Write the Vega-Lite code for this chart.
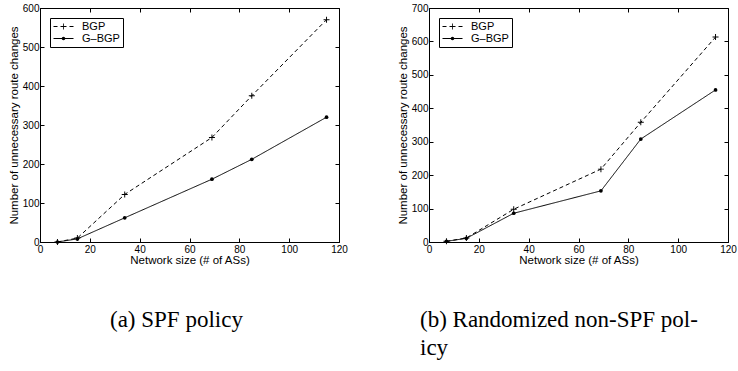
{
  "$schema": "https://vega.github.io/schema/vega-lite/v6.json",
  "padding": {"left": 7, "top": 2, "right": 0, "bottom": 0},
  "background": "white",
  "config": {
    "view": {"stroke": "black", "strokeWidth": 1},
    "axis": {
      "grid": false, "labelFlush": false, "labelOverlap": false,
      "labelFont": "Liberation Sans", "labelFontSize": 10, "labelColor": "black",
      "titleFont": "Liberation Sans", "titleFontSize": 11.5, "titleFontWeight": "normal", "titleColor": "black",
      "domainColor": "black", "tickColor": "black", "tickSize": -4
    },
    "axisX": {"labelPadding": 6, "titlePadding": 0},
    "axisY": {"labelPadding": 5, "titlePadding": 3},
    "legend": {
      "labelFont": "Liberation Sans", "labelFontSize": 11, "labelColor": "black",
      "title": null, "orient": "top-left", "offset": 10,
      "strokeColor": "black", "fillColor": "white", "padding": 3,
      "rowPadding": 0, "symbolSize": 100, "symbolStrokeColor": "black", "symbolStrokeWidth": 1,
      "labelOffset": 18
    },
    "title": {"font": "Liberation Serif", "fontSize": 23, "fontWeight": "normal", "color": "black"}
  },
  "resolve": {"scale": {"strokeDash": "independent"}, "legend": {"strokeDash": "independent"}},
  "hconcat": [
    {
      "width": 299, "height": 234,
      "title": {"text": "(a) SPF policy", "orient": "bottom", "anchor": "start", "frame": "group", "dx": 70, "offset": 43},
      "data": {"values": [
        {"size": 7, "value": 0, "series": "BGP"},
        {"size": 15, "value": 10, "series": "BGP"},
        {"size": 34, "value": 122, "series": "BGP"},
        {"size": 69, "value": 268, "series": "BGP"},
        {"size": 85, "value": 375, "series": "BGP"},
        {"size": 115, "value": 570, "series": "BGP"},
        {"size": 7, "value": 0, "series": "G-BGP"},
        {"size": 15, "value": 8, "series": "G-BGP"},
        {"size": 34, "value": 62, "series": "G-BGP"},
        {"size": 69, "value": 161, "series": "G-BGP"},
        {"size": 85, "value": 212, "series": "G-BGP"},
        {"size": 115, "value": 320, "series": "G-BGP"}
      ]},
      "layer": [
        {
          "mark": {"type": "line", "color": "black", "strokeWidth": 1},
          "encoding": {
            "x": {"field": "size", "type": "quantitative", "scale": {"domain": [0, 120], "nice": false},
                  "axis": {"title": "Network size (# of ASs)", "values": [0, 20, 40, 60, 80, 100, 120]}},
            "y": {"field": "value", "type": "quantitative", "scale": {"domain": [0, 600], "nice": false},
                  "axis": {"title": "Number of unnecessary route changes", "values": [0, 100, 200, 300, 400, 500, 600]}},
            "strokeDash": {"field": "series", "type": "nominal",
              "scale": {"domain": ["BGP", "G-BGP"], "range": [[4, 3], [1, 0]]},
              "legend": {
                "labelExpr": "replace(datum.label, '-', '–')",
                "encode": {"symbols": {"update": {
                  "shape": {"signal": "datum.value === 'BGP' ? 'M-1,-0.08L-0.2,-0.08L-0.2,0.08L-1,0.08Z M0.4,-0.08L1.6,-0.08L1.6,0.08L0.4,0.08Z M0.92,-0.6L1.08,-0.6L1.08,0.6L0.92,0.6Z M2.2,-0.08L3,-0.08L3,0.08L2.2,0.08Z' : 'M-1,-0.08L3,-0.08L3,0.08L-1,0.08Z M1.35,0A0.35,0.35 0 1,1 0.65,0A0.35,0.35 0 1,1 1.35,0Z'"},
                  "size": {"value": 100},
                  "fill": {"value": "black"},
                  "stroke": {"value": "transparent"},
                  "opacity": {"value": 1}
                }}}
              }}
          }
        },
        {
          "transform": [{"filter": "datum.series === 'BGP'"}],
          "mark": {"type": "point", "shape": "M-1,-0.16L1,-0.16L1,0.16L-1,0.16Z M-0.16,-1L0.16,-1L0.16,1L-0.16,1Z", "size": 36, "fill": "black", "strokeWidth": 0, "opacity": 1, "filled": true},
          "encoding": {
            "x": {"field": "size", "type": "quantitative", "axis": null},
            "y": {"field": "value", "type": "quantitative", "axis": null}
          }
        },
        {
          "transform": [{"filter": "datum.series === 'G-BGP'"}],
          "mark": {"type": "point", "shape": "circle", "size": 14, "fill": "black", "strokeWidth": 0, "opacity": 1, "filled": true},
          "encoding": {
            "x": {"field": "size", "type": "quantitative", "axis": null},
            "y": {"field": "value", "type": "quantitative", "axis": null}
          }
        },
        {
          "mark": {"type": "point", "opacity": 0},
          "encoding": {
            "x": {"field": "size", "type": "quantitative", "axis": {"orient": "top", "labels": false, "title": null, "domain": false, "values": [0, 20, 40, 60, 80, 100, 120]}},
            "y": {"field": "value", "type": "quantitative", "axis": {"orient": "right", "labels": false, "title": null, "domain": false, "values": [0, 100, 200, 300, 400, 500, 600]}}
          }
        }
      ],
      "resolve": {"axis": {"x": "independent", "y": "independent"}}
    },
    {
      "width": 299, "height": 234,
      "title": {"text": ["(b) Randomized non-SPF pol-", "icy"], "orient": "bottom", "anchor": "start", "frame": "group", "dx": -9, "offset": 43, "lineHeight": 28},
      "data": {"values": [
        {"size": 7, "value": 2, "series": "BGP"},
        {"size": 15, "value": 12, "series": "BGP"},
        {"size": 34, "value": 98, "series": "BGP"},
        {"size": 69, "value": 218, "series": "BGP"},
        {"size": 85, "value": 358, "series": "BGP"},
        {"size": 115, "value": 613, "series": "BGP"},
        {"size": 7, "value": 2, "series": "G-BGP"},
        {"size": 15, "value": 11, "series": "G-BGP"},
        {"size": 34, "value": 86, "series": "G-BGP"},
        {"size": 69, "value": 153, "series": "G-BGP"},
        {"size": 85, "value": 308, "series": "G-BGP"},
        {"size": 115, "value": 455, "series": "G-BGP"}
      ]},
      "layer": [
        {
          "mark": {"type": "line", "color": "black", "strokeWidth": 1},
          "encoding": {
            "x": {"field": "size", "type": "quantitative", "scale": {"domain": [0, 120], "nice": false},
                  "axis": {"title": "Network size (# of ASs)", "values": [0, 20, 40, 60, 80, 100, 120]}},
            "y": {"field": "value", "type": "quantitative", "scale": {"domain": [0, 700], "nice": false},
                  "axis": {"title": "Number of unnecessary route changes", "values": [0, 100, 200, 300, 400, 500, 600, 700]}},
            "strokeDash": {"field": "series", "type": "nominal",
              "scale": {"domain": ["BGP", "G-BGP"], "range": [[4, 3], [1, 0]]},
              "legend": {
                "labelExpr": "replace(datum.label, '-', '–')",
                "encode": {"symbols": {"update": {
                  "shape": {"signal": "datum.value === 'BGP' ? 'M-1,-0.08L-0.2,-0.08L-0.2,0.08L-1,0.08Z M0.4,-0.08L1.6,-0.08L1.6,0.08L0.4,0.08Z M0.92,-0.6L1.08,-0.6L1.08,0.6L0.92,0.6Z M2.2,-0.08L3,-0.08L3,0.08L2.2,0.08Z' : 'M-1,-0.08L3,-0.08L3,0.08L-1,0.08Z M1.35,0A0.35,0.35 0 1,1 0.65,0A0.35,0.35 0 1,1 1.35,0Z'"},
                  "size": {"value": 100},
                  "fill": {"value": "black"},
                  "stroke": {"value": "transparent"},
                  "opacity": {"value": 1}
                }}}
              }}
          }
        },
        {
          "transform": [{"filter": "datum.series === 'BGP'"}],
          "mark": {"type": "point", "shape": "M-1,-0.16L1,-0.16L1,0.16L-1,0.16Z M-0.16,-1L0.16,-1L0.16,1L-0.16,1Z", "size": 36, "fill": "black", "strokeWidth": 0, "opacity": 1, "filled": true},
          "encoding": {
            "x": {"field": "size", "type": "quantitative", "axis": null},
            "y": {"field": "value", "type": "quantitative", "axis": null}
          }
        },
        {
          "transform": [{"filter": "datum.series === 'G-BGP'"}],
          "mark": {"type": "point", "shape": "circle", "size": 14, "fill": "black", "strokeWidth": 0, "opacity": 1, "filled": true},
          "encoding": {
            "x": {"field": "size", "type": "quantitative", "axis": null},
            "y": {"field": "value", "type": "quantitative", "axis": null}
          }
        },
        {
          "mark": {"type": "point", "opacity": 0},
          "encoding": {
            "x": {"field": "size", "type": "quantitative", "axis": {"orient": "top", "labels": false, "title": null, "domain": false, "values": [0, 20, 40, 60, 80, 100, 120]}},
            "y": {"field": "value", "type": "quantitative", "axis": {"orient": "right", "labels": false, "title": null, "domain": false, "values": [0, 100, 200, 300, 400, 500, 600, 700]}}
          }
        }
      ],
      "resolve": {"axis": {"x": "independent", "y": "independent"}}
    }
  ],
  "spacing": 48
}
